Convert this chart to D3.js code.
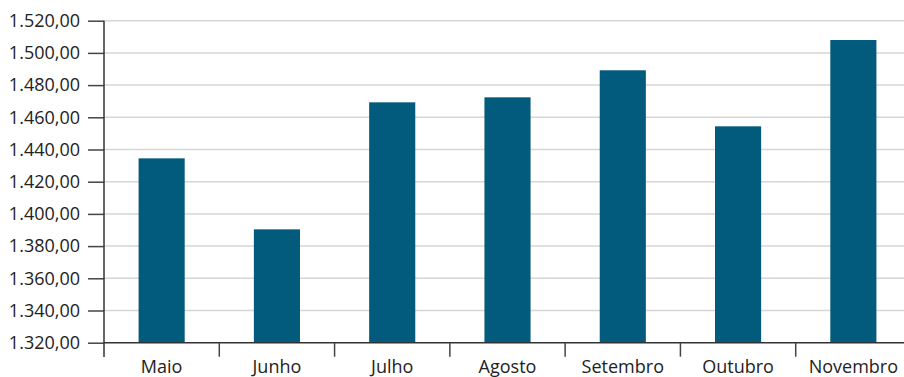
<!DOCTYPE html>
<html><head><meta charset="utf-8">
<script src="https://cdn.jsdelivr.net/npm/d3@7"></script>
<style>body{margin:0;background:#fff}svg{display:block}</style>
</head><body>
<svg id="c" width="904" height="377"></svg>
<script>
const months = ["Maio","Junho","Julho","Agosto","Setembro","Outubro","Novembro"];
const values = [1434.5, 1390.4, 1469.3, 1472.4, 1489.2, 1454.4, 1508];
const yTicks = [1320,1340,1360,1380,1400,1420,1440,1460,1480,1500,1520];

(function(){
const svg = d3.select("#c");
const mLeft = 104, mTop = 20.7, mBottom = 342.7, mRight = 911;
const font = "'Open Sans', 'Noto Sans', sans-serif";

const x = d3.scaleBand().domain(months).range([mLeft, mRight]).paddingInner(0.6).paddingOuter(0.3);
const y = d3.scaleLinear().domain([1320,1520]).range([mBottom, mTop]);
const loc = d3.formatLocale({decimal: ",", thousands: ".", grouping: [3], currency: ["R$",""]});
const fmt = loc.format(",.2f");

// gridlines
svg.append("g").selectAll("line").data(yTicks.slice(1)).join("line")
  .attr("x1", mLeft).attr("x2", 904)
  .attr("y1", d => y(d)).attr("y2", d => y(d))
  .attr("stroke", "#d6d6d6").attr("stroke-width", 1.5);

// bars
svg.append("g").selectAll("rect").data(months).join("rect")
  .attr("x", d => x(d)).attr("width", x.bandwidth())
  .attr("y", (d,i) => y(values[i])).attr("height", (d,i) => y(1320) - y(values[i]))
  .attr("fill", "#025a7c");

// y axis
const ya = svg.append("g").attr("transform", `translate(${mLeft},0)`)
  .call(d3.axisLeft(y).tickValues(yTicks).tickFormat(fmt).tickSize(16).tickPadding(8));
ya.select(".domain").remove();
ya.append("line").attr("x1",0).attr("x2",0).attr("y1",mTop).attr("y2",357).attr("stroke","#333").attr("stroke-width",1.5);
ya.selectAll(".tick line").attr("stroke","#444").attr("stroke-width",1.5);
ya.selectAll("text").attr("fill","#222").style("font-family",font).style("font-size","18px");

// x axis
const xa = svg.append("g").attr("transform", `translate(0,${mBottom})`)
  .call(d3.axisBottom(x).tickSize(0).tickPadding(18));
xa.select(".domain").remove();
xa.append("line").attr("x1",mLeft).attr("x2",904).attr("y1",0).attr("y2",0).attr("stroke","#333").attr("stroke-width",1.5);
xa.selectAll("text").attr("fill","#222").style("font-family",font).style("font-size","18px");
const off = x.step()*x.paddingOuter();
xa.selectAll("line.bt").data(months.slice(1)).join("line").attr("class","bt")
  .attr("x1", d => x(d)-off).attr("x2", d => x(d)-off)
  .attr("y1",0).attr("y2",14).attr("stroke","#444").attr("stroke-width",1.5);
})();
</script>
</body></html>
